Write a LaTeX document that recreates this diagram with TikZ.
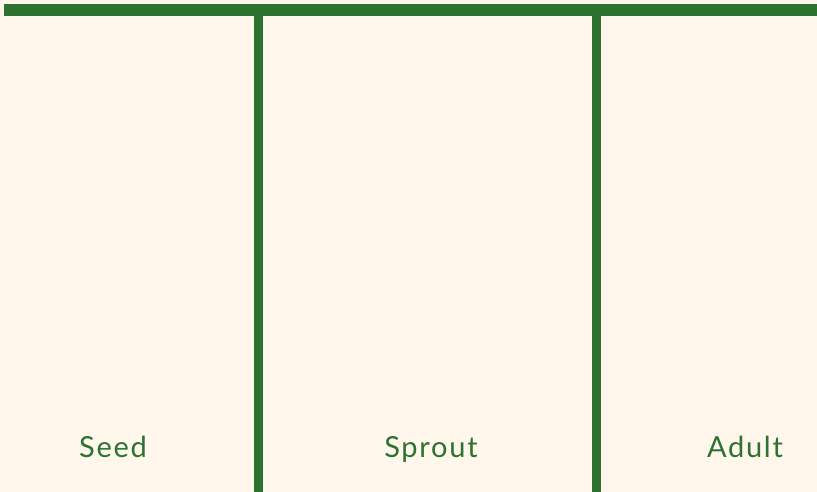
\documentclass[tikz,border=0pt]{standalone}
\usepackage{fontspec}
\setmainfont{Lato}
\definecolor{bg}{HTML}{FFF7EC}
\definecolor{leaf}{HTML}{2D7230}
\begin{document}
\begin{tikzpicture}[x=1pt,y=-1pt,
  bar/.style={fill=leaf,draw=none},
  lbl/.style={text=leaf,font=\fontsize{29}{34}\selectfont\addfontfeature{LetterSpace=6},inner sep=0pt,anchor=base}]
\fill[bg] (0,0) rectangle (817,492);
\useasboundingbox (0,0) rectangle (817,492);
\fill[bar] (4,4) rectangle (817,16);
\fill[bar] (254,16) rectangle (263,492);
\fill[bar] (592,16) rectangle (601,492);
\node[lbl] (seed) at (113,457) {Seed};
\node[lbl] (sprout) at (431,457) {Sprout};
\node[lbl] (adult) at (745,457) {Adult};
\end{tikzpicture}
\end{document}
